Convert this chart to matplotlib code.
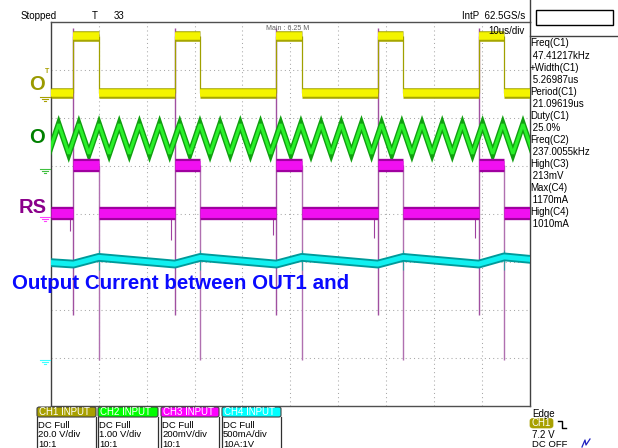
import numpy as np
import matplotlib.pyplot as plt
from matplotlib.patches import Rectangle, FancyBboxPatch

W, H = 618, 448

# time axis in us (10 us/div), vertical axis in divisions
t_lim = (0, 100)
v_lim = (-4, 4)

# CH1 / CH3 pulse edges (us)
rise_us = [4.70, 25.90, 47.10, 68.30, 89.40]
fall_us = [9.97, 31.20, 52.40, 73.60, 94.70]

ch1_low, ch1_high = 2.52, 3.71
ch3_low, ch3_high = 0.02, 1.02
ch3_rise_top, ch3_rise_bottom = 3.87, -2.12
ch3_fall_bottom = -3.06
ch3_pre_spike_us = [3.90, 25.10, 46.30, 67.45, 88.60]
ch3_pre_spike_low = [-0.35, -0.55, -0.45, -0.50, -0.50]

# CH2 triangle vertices (us)
ch2_peak_us = [1.60, 5.82, 10.04, 14.26, 18.48, 22.70, 26.91, 31.13, 35.35, 39.57,
               43.79, 48.01, 52.23, 56.45, 60.67, 64.89, 69.10, 73.32, 77.54, 81.76,
               85.98, 90.20, 94.42, 98.64]
ch2_trough_us = [-0.51, 3.71, 7.93, 12.15, 16.37, 20.59, 24.81, 29.02, 33.24, 37.46,
                 41.68, 45.90, 50.12, 54.34, 58.56, 62.78, 67.00, 71.21, 75.43, 79.65,
                 83.87, 88.09, 92.31, 96.53, 100.75]
ch2_high, ch2_low = 1.87, 1.25

# CH4 inductor current
ch4_t = [0, 4.70, 9.97, 25.90, 31.20, 47.10, 52.40, 68.30, 73.60, 89.40, 94.70, 100]
ch4_v = [-1.02, -1.05, -0.91, -1.05, -0.91, -1.05, -0.91, -1.05, -0.91, -1.05, -0.90, -0.95]

# ground reference markers
gnd_levels = [2.44, 0.93, -0.07, -3.05]
gnd_colors = ['#a8a000', '#40c040', '#ff40ff', '#40ffff']

measure_lines = ['Freq(C1)', ' 47.41217kHz', '+Width(C1)', ' 5.26987us', 'Period(C1)',
                 ' 21.09619us', 'Duty(C1)', ' 25.0%', 'Freq(C2)', ' 237.0055kHz',
                 'High(C3)', ' 213mV', 'Max(C4)', ' 1170mA', 'High(C4)', ' 1010mA']

ch_names = ['CH1 INPUT', 'CH2 INPUT', 'CH3 INPUT', 'CH4 INPUT']
ch_colors = ['#a8a000', '#00ff00', '#ff00ff', '#00ffff']
ch_info = [['DC Full', '20.0 V/div', '10:1'],
           ['DC Full', '1.00 V/div', '10:1'],
           ['DC Full', '200mV/div', '10:1'],
           ['DC Full', '500mA/div', '10A:1V']]
ch_box_x = [(37, 96), (98, 158), (161, 219), (222, 281)]

plt.rcParams['font.family'] = ['Liberation Sans', 'DejaVu Sans']

fig = plt.figure(figsize=(W / 100, H / 100), dpi=100)
fig.patch.set_facecolor('white')
ax = fig.add_axes([51 / W, (H - 405.5) / H, 478.5 / W, 383.5 / H])
ax.set_xlim(*t_lim)
ax.set_ylim(*v_lim)
ax.set_xticks([])
ax.set_yticks([])

for s in ['top', 'bottom']:
    ax.spines[s].set_color('#505050')
    ax.spines[s].set_linewidth(1.0)
for s in ['left', 'right']:
    ax.spines[s].set_color('#404040')
    ax.spines[s].set_linewidth(1.0)
    ax.spines[s].set_linestyle((0, (2, 1)))

# graticule
for t in range(10, 100, 10):
    ax.axvline(t, color='#a8a8a8', lw=0.75, ls=(0, (1, 3)), zorder=0)
for v in range(-3, 4):
    ax.axhline(v, color='#a8a8a8', lw=0.75, ls=(0, (1, 3)), zorder=0)


def level_segments(rise, fall, lo, hi):
    lows = [(t_lim[0], rise[0])] + [(fall[i], rise[i + 1]) for i in range(len(rise) - 1)] + [(fall[-1], t_lim[1])]
    highs = list(zip(rise, fall))
    return [(a, b, lo) for a, b in lows] + [(a, b, hi) for a, b in highs]


def band(segs, dark, bright, lw_dark, lw_bright, z):
    for a, b, lvl in segs:
        ax.plot([a, b], [lvl, lvl], color=dark, lw=lw_dark, solid_capstyle='butt', zorder=z)
        ax.plot([a, b], [lvl, lvl], color=bright, lw=lw_bright, solid_capstyle='butt', zorder=z + 0.1)


# CH1 gate drive
band(level_segments(rise_us, fall_us, ch1_low, ch1_high), '#a6a600', '#f4f400', 7.6, 5.4, 3)
ax.vlines(rise_us + fall_us, ch1_low, ch1_high, color='#a0a000', lw=0.9, zorder=3)

# CH2 triangle
tri_t = []
tri_v = []
for i, tt in enumerate(ch2_trough_us):
    tri_t.append(tt)
    tri_v.append(ch2_low)
    if i < len(ch2_peak_us):
        tri_t.append(ch2_peak_us[i])
        tri_v.append(ch2_high)
ax.plot(tri_t, tri_v, color='#10a010', lw=4.2, zorder=4, solid_joinstyle='miter')
ax.plot(tri_t, tri_v, color='#2af02a', lw=2.2, zorder=4.1, solid_joinstyle='miter')

# CH3 sense voltage with ringing at the edges
ax.vlines(rise_us, ch3_rise_bottom, ch3_rise_top, color='#a050a0', lw=1.0, zorder=2)
ax.vlines(fall_us, ch3_fall_bottom, ch3_high, color='#b070b0', lw=1.0, zorder=2)
ax.vlines(ch3_pre_spike_us, ch3_pre_spike_low, ch3_low, color='#a040a0', lw=0.8, zorder=5)
band(level_segments(rise_us, fall_us, ch3_low, ch3_high), '#a000a0', '#f010f0', 9.6, 6.4, 5)

# CH4 current
ax.vlines(fall_us, -1.17, -0.76, color='#30a0a0', lw=0.8, zorder=6)
ax.plot(ch4_t, ch4_v, color='#009a9a', lw=6.3, zorder=6)
ax.plot(ch4_t, ch4_v, color='#10f0f0', lw=3.6, zorder=6.1)

# ground markers left of the graticule
for lvl, c in zip(gnd_levels, gnd_colors):
    for k, (a, b) in enumerate([(-2.3, -0.2), (-1.9, -0.6), (-1.5, -1.0)]):
        ax.plot([a, b], [lvl - 0.045 * k, lvl - 0.045 * k], color=c, lw=0.8,
                clip_on=False, zorder=7)
ax.text(-0.9, 2.97, 'T', color='#a8a000', fontsize=5, fontweight='bold',
        ha='center', va='center', clip_on=False)

# channel labels
ax.text(-3.0, 2.69, 'O', color='#9a9a00', fontsize=14.5, fontweight='bold',
        ha='center', va='center', clip_on=False)
ax.text(-3.0, 1.60, 'O', color='#008000', fontsize=14.5, fontweight='bold',
        ha='center', va='center', clip_on=False)
ax.text(-3.8, 0.12, 'RS', color='#8b008b', fontsize=14.5, fontweight='bold',
        ha='center', va='center', clip_on=False)


def fx(x):
    return x / W


def fy(y):
    return 1 - y / H


fig.text(fx(12), fy(283), 'Output Current between OUT1 and', color='#0a0aff',
         fontsize=14.8, fontweight='bold', ha='left', va='center', zorder=10)

# status bar
fig.text(fx(21), fy(16), 'Stopped', fontsize=7, va='center')
fig.text(fx(92), fy(16), 'T', fontsize=7, va='center')
fig.text(fx(114), fy(16), '33', fontsize=7, va='center')
fig.text(fx(462), fy(16), 'IntP  62.5GS/s', fontsize=7, va='center')
fig.text(fx(266), fy(28), 'Main : 6.25 M', fontsize=5, color='#606060', va='center')
fig.text(fx(488), fy(31), '10us/div', fontsize=7, va='center', zorder=10)

fig.add_artist(plt.Line2D([fx(529.5), fx(529.5)], [fy(0), fy(22)], color='#404040', lw=1.0))
fig.add_artist(plt.Line2D([fx(529.5), fx(618)], [fy(36), fy(36)], color='#404040', lw=1.0))
fig.add_artist(Rectangle((fx(536), fy(25)), (613 - 536) / W, 15 / H, transform=fig.transFigure,
                         facecolor='white', edgecolor='black', lw=1.0))

# measurement readout
for i, s in enumerate(measure_lines):
    fig.text(fx(530), fy(43.5 + 12.06 * i), s, fontsize=7, va='center')

# channel setup boxes
for (x0, x1), name, col, info in zip(ch_box_x, ch_names, ch_colors, ch_info):
    fig.add_artist(FancyBboxPatch((fx(x0), fy(417)), (x1 - x0) / W, 10 / H,
                                  boxstyle='round,pad=0,rounding_size=0.004',
                                  transform=fig.transFigure, facecolor=col,
                                  edgecolor='#404040', lw=0.8))
    fig.text(fx(x0 + 2), fy(412), name, fontsize=7, color='white', va='center')
    fig.add_artist(plt.Line2D([fx(x0), fx(x0)], [fy(417), fy(448)], color='#303030', lw=0.9))
    fig.add_artist(plt.Line2D([fx(x1), fx(x1)], [fy(417), fy(448)], color='#303030', lw=0.9))
    for j, s in enumerate(info):
        fig.text(fx(x0 + 1), fy(427.5 + 9.8 * j), s, fontsize=6.8, va='baseline')

# trigger info
fig.text(fx(532), fy(416.5), 'Edge', fontsize=7, va='baseline')
fig.add_artist(FancyBboxPatch((fx(530), fy(428)), 23 / W, 9.5 / H,
                              boxstyle='round,pad=0,rounding_size=0.005',
                              transform=fig.transFigure, facecolor='#a8a000',
                              edgecolor='#a8a000', lw=0.5))
fig.text(fx(532), fy(423.2), 'CH1', fontsize=7, color='white', va='center')
fig.add_artist(plt.Line2D([fx(558), fx(562), fx(562), fx(566)],
                          [fy(421), fy(421), fy(428), fy(428)], color='black', lw=1.0))
fig.text(fx(532), fy(437.5), '7.2 V', fontsize=7, va='baseline')
fig.text(fx(532), fy(447), 'DC OFF', fontsize=6.8, va='baseline')
fig.add_artist(plt.Line2D([fx(582), fx(585), fx(586), fx(590)],
                          [fy(447), fy(440), fy(445), fy(439)], color='#2020c0', lw=0.9))

fig.savefig('out.png', dpi=100)
